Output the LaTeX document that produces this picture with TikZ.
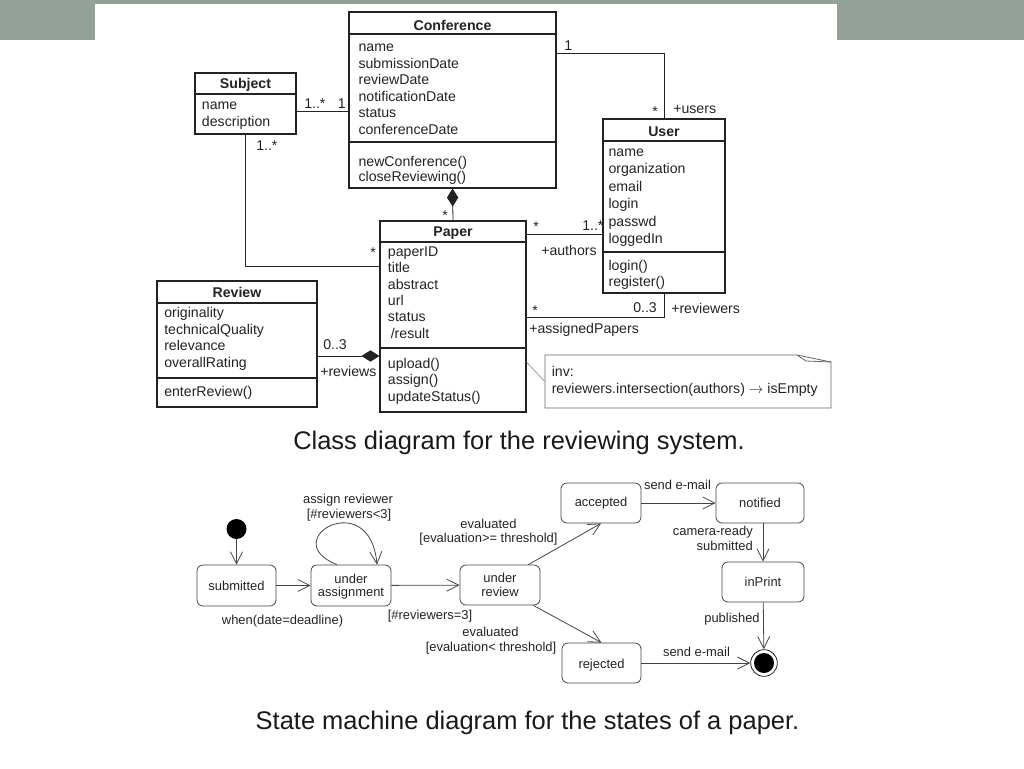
\documentclass[tikz,border=0pt]{standalone}
\usepackage{fontspec}
\setmainfont{Liberation Sans}
\usetikzlibrary{arrows.meta,fit}
\definecolor{barcol}{RGB}{148,161,153}
\definecolor{ink}{RGB}{35,35,35}
\newcommand\clsfont{\fontsize{10.6pt}{12pt}\selectfont}
\newcommand\stfont{\fontsize{9.7pt}{11pt}\selectfont}
\newcommand\capfont{\fontsize{19.1pt}{22pt}\selectfont}
\begin{document}
\begin{tikzpicture}[x=0.75pt,y=-0.75pt,
  cls/.style={draw=ink,line width=0.8pt,inner sep=0pt,fill=white},
  sep/.style={draw=ink,line width=0.8pt},
  ctxt/.style={font=\clsfont,text=ink,inner sep=0pt,anchor=base west},
  chead/.style={font=\clsfont\bfseries,text=ink,inner sep=0pt,anchor=base},
  assoc/.style={draw=ink,line width=0.6pt},
  comp/.style={assoc,{Diamond[length=13.5pt,width=8.5pt]}-},
  notelink/.style={draw=black!45,line width=0.5pt},
  stbox/.style={draw=ink!85,rounded corners=4.5pt,line width=0.6pt,inner sep=0pt},
  stxt/.style={font=\stfont,text=ink,inner sep=0pt,anchor=base},
  trans/.style={draw=ink!85,line width=0.6pt,-{Straight Barb[length=9pt,width=9pt]}},
  captxt/.style={font=\capfont,text=black!90,inner sep=0pt,anchor=base}
]
\useasboundingbox (0,0) rectangle (1024,768);
\fill[barcol] (0,0) rectangle (1024,40);
\fill[white] (95,4) rectangle (837,40);

% ---------------- Conference
\node[cls,fit={(349,12) (556,188)}] (conf) {};
\draw[sep] (349,34) -- (556,34);
\draw[sep] (349,142) -- (556,142);
\node[chead] (conf-h) at (452.5,30) {Conference};
\foreach \t [count=\i from 0] in {name,submissionDate,reviewDate,notificationDate,status,conferenceDate}
  \node[ctxt] (conf-a\i) at (358.3,{51.5+16.5*\i}) {\t};
\node[ctxt] (conf-o1) at (358.3,166) {newConference()};
\node[ctxt] (conf-o2) at (358.3,181) {closeReviewing()};

% ---------------- Subject
\node[cls,fit={(195,73) (296,134)}] (subject) {};
\draw[sep] (195,94) -- (296,94);
\node[chead] (subj-h) at (245.5,88.5) {Subject};
\node[ctxt] (subj-a1) at (201.7,109.5) {name};
\node[ctxt] (subj-a2) at (201.7,126) {description};

% ---------------- Paper
\node[cls,fit={(380,221) (526,412)}] (paper) {};
\draw[sep] (380,242) -- (526,242);
\draw[sep] (380,348) -- (526,348);
\node[chead] (paper-h) at (453,236) {Paper};
\foreach \t [count=\i from 0] in {paperID,title,abstract,url,status}
  \node[ctxt] (paper-a\i) at (387.7,{256.5+16.3*\i}) {\t};
\node[ctxt] (paper-a5) at (390.5,338) {/result};
\node[ctxt] (paper-o1) at (387.7,368) {upload()};
\node[ctxt] (paper-o2) at (387.7,384.5) {assign()};
\node[ctxt] (paper-o3) at (387.7,401) {updateStatus()};

% ---------------- Review
\node[cls,fit={(157,281) (317,407)}] (review) {};
\draw[sep] (157,303) -- (317,303);
\draw[sep] (157,378) -- (317,378);
\node[chead] (rev-h) at (237,297) {Review};
\foreach \t [count=\i from 0] in {originality,technicalQuality,relevance,overallRating}
  \node[ctxt] (rev-a\i) at (164,{317.5+16.5*\i}) {\t};
\node[ctxt] (rev-o1) at (164,396.7) {enterReview()};

% ---------------- User
\node[cls,fit={(603,119) (725,293)}] (user) {};
\draw[sep] (603,141) -- (725,141);
\draw[sep] (603,252) -- (725,252);
\node[chead] (user-h) at (664,136) {User};
\foreach \t [count=\i from 0] in {name,organization,email,login,passwd,loggedIn}
  \node[ctxt] (user-a\i) at (608.3,{156+17.5*\i}) {\t};
\node[ctxt] (user-o1) at (608.3,270) {login()};
\node[ctxt] (user-o2) at (608.3,286.7) {register()};

% ---------------- Note
\node[inner sep=0pt,fit={(545,355) (831,408)}] (note) {};
\draw[draw=black!60,line width=0.6pt,fill=white] (545,355) -- (797,355) -- (831,362) -- (831,408) -- (545,408) -- cycle;
\draw[draw=black!60,line width=0.6pt] (797,355) -- (806,361) -- (831,362);
\node[ctxt] (note-1) at (551.5,376.7) {inv:};
\node[ctxt] (note-2) at (551.5,393) {reviewers.intersection(authors) $\rightarrow$ isEmpty};

% ---------------- Class connectors
\coordinate (sc) at ([yshift=-5.625pt]subject.east);
\draw[assoc] (sc) -- (sc -| conf.west);
\coordinate (sp) at ([yshift=37.875pt]paper.west);
\draw[assoc] (subject.south) |- (sp);
\coordinate (cu) at ([yshift=-31.5pt]conf.north east);
\draw[assoc] (cu) -| (user.north);
\draw[comp] (conf.south) -- (paper.north);
\coordinate (pa) at ([yshift=-10.5pt]paper.north east);
\draw[assoc] (pa) -- (pa -| user.west);
\coordinate (pr) at ([yshift=-72.75pt]paper.north east);
\draw[assoc] (pr) -| (user.south);
\coordinate (rp) at ([yshift=-9pt]review.east);
\draw[comp] (rp -| paper.west) -- (rp);
\coordinate (pn) at ([yshift=-34.125pt]paper.east);
\draw[notelink] (pn) -- (note.west);

% multiplicities and roles
\node[ctxt] (m1) at (304,108) {1..*};
\node[ctxt] (m2) at (337.5,108) {1};
\node[ctxt] (m3) at (256,150.5) {1..*};
\node[ctxt] (m4) at (564,50) {1};
\node[ctxt] (m5) at (652,116.8) {*};
\node[ctxt] (m6) at (673,113.3) {+users};
\node[ctxt] (m7) at (442,220.5) {*};
\node[ctxt] (m8) at (370,257) {*};
\node[ctxt] (m9) at (533,231.5) {*};
\node[ctxt] (m10) at (582,230.7) {1..*};
\node[ctxt] (m11) at (541,255) {+authors};
\node[ctxt] (m12) at (532,315.5) {*};
\node[ctxt] (m13) at (633,312.7) {0..3};
\node[ctxt] (m14) at (671,313) {+reviewers};
\node[ctxt] (m15) at (529,333) {+assignedPapers};
\node[ctxt] (m16) at (323,349.3) {0..3};
\node[ctxt] (m17) at (320,376.7) {+reviews};

\node[captxt] (cap1) at (519,449) {Class diagram for the reviewing system.};

% ---------------- State machine
\node[circle,fill=black,inner sep=0pt,minimum size=15pt] (init) at (236.5,529) {};
\node[stbox,fit={(197,565) (276,606)}] (sub) {};
\node[stbox,fit={(311,565) (391,606)}] (ua) {};
\node[stbox,fit={(460,565) (540,605)}] (ur) {};
\node[stbox,fit={(561,483) (641,523)}] (acc) {};
\node[stbox,fit={(716,483) (804,523)}] (notif) {};
\node[stbox,fit={(722,562) (804,602)}] (inp) {};
\node[stbox,fit={(562,643) (641,683)}] (rej) {};
\node[circle,draw=ink,line width=0.6pt,inner sep=0pt,minimum size=20pt] (fin) at (764,663) {};
\node[circle,fill=black,inner sep=0pt,minimum size=15pt] (fincore) at (fin.center) {};

\node[stxt] (t-sub) at (236.5,590) {submitted};
\node[stxt] (t-ua1) at (351,583.3) {under};
\node[stxt] (t-ua2) at (351,596.7) {assignment};
\node[stxt] (t-ur1) at (500,582) {under};
\node[stxt] (t-ur2) at (500,596) {review};
\node[stxt] (t-acc) at (601,506.7) {accepted};
\node[stxt] (t-not) at (760,507) {notified};
\node[stxt] (t-inp) at (763,586.7) {inPrint};
\node[stxt] (t-rej) at (601.5,668) {rejected};

\draw[trans] (init) -- (sub);
\draw[trans] (sub) -- (ua);
\draw[trans] (ua) -- (ur);
\coordinate (ul) at ([xshift=-10.5pt]ua.north);
\coordinate (ue) at ([xshift=19.5pt]ua.north);
\draw[trans] (ul) .. controls (275,540) and (370,485) .. (ue);
\coordinate (ura) at ([xshift=-9pt]ur.north east);
\draw[trans] (ura) -- (acc.south);
\coordinate (urr) at ([xshift=-5.25pt]ur.south east);
\draw[trans] (urr) -- (rej.north);
\draw[trans] (acc) -- (notif);
\draw[trans] (notif.south -| inp.north) -- (inp.north);
\draw[trans] (inp) -- (fin);
\draw[trans] (rej) -- (fin);

\node[stxt] (l1) at (348,503) {assign reviewer};
\node[stxt] (l2) at (349,518.5) {[\#reviewers<3]};
\node[stxt] (l3) at (488.5,528) {evaluated};
\node[stxt] (l4) at (488.5,542.5) {[evaluation>= threshold]};
\node[stxt] (l5) at (282.5,624.5) {when(date=deadline)};
\node[stxt] (l6) at (430,619) {[\#reviewers=3]};
\node[stxt] (l7) at (490.5,636.7) {evaluated};
\node[stxt] (l8) at (491,651.5) {[evaluation< threshold]};
\node[stxt] (l9) at (677.5,489) {send e-mail};
\node[stxt,anchor=base east] (l10) at (753,535.5) {camera-ready};
\node[stxt,anchor=base east] (l11) at (753,550.7) {submitted};
\node[stxt] (l12) at (732,622) {published};
\node[stxt] (l13) at (696.5,656) {send e-mail};

\node[captxt] (cap2) at (527.5,729) {State machine diagram for the states of a paper.};
\end{tikzpicture}
\end{document}
